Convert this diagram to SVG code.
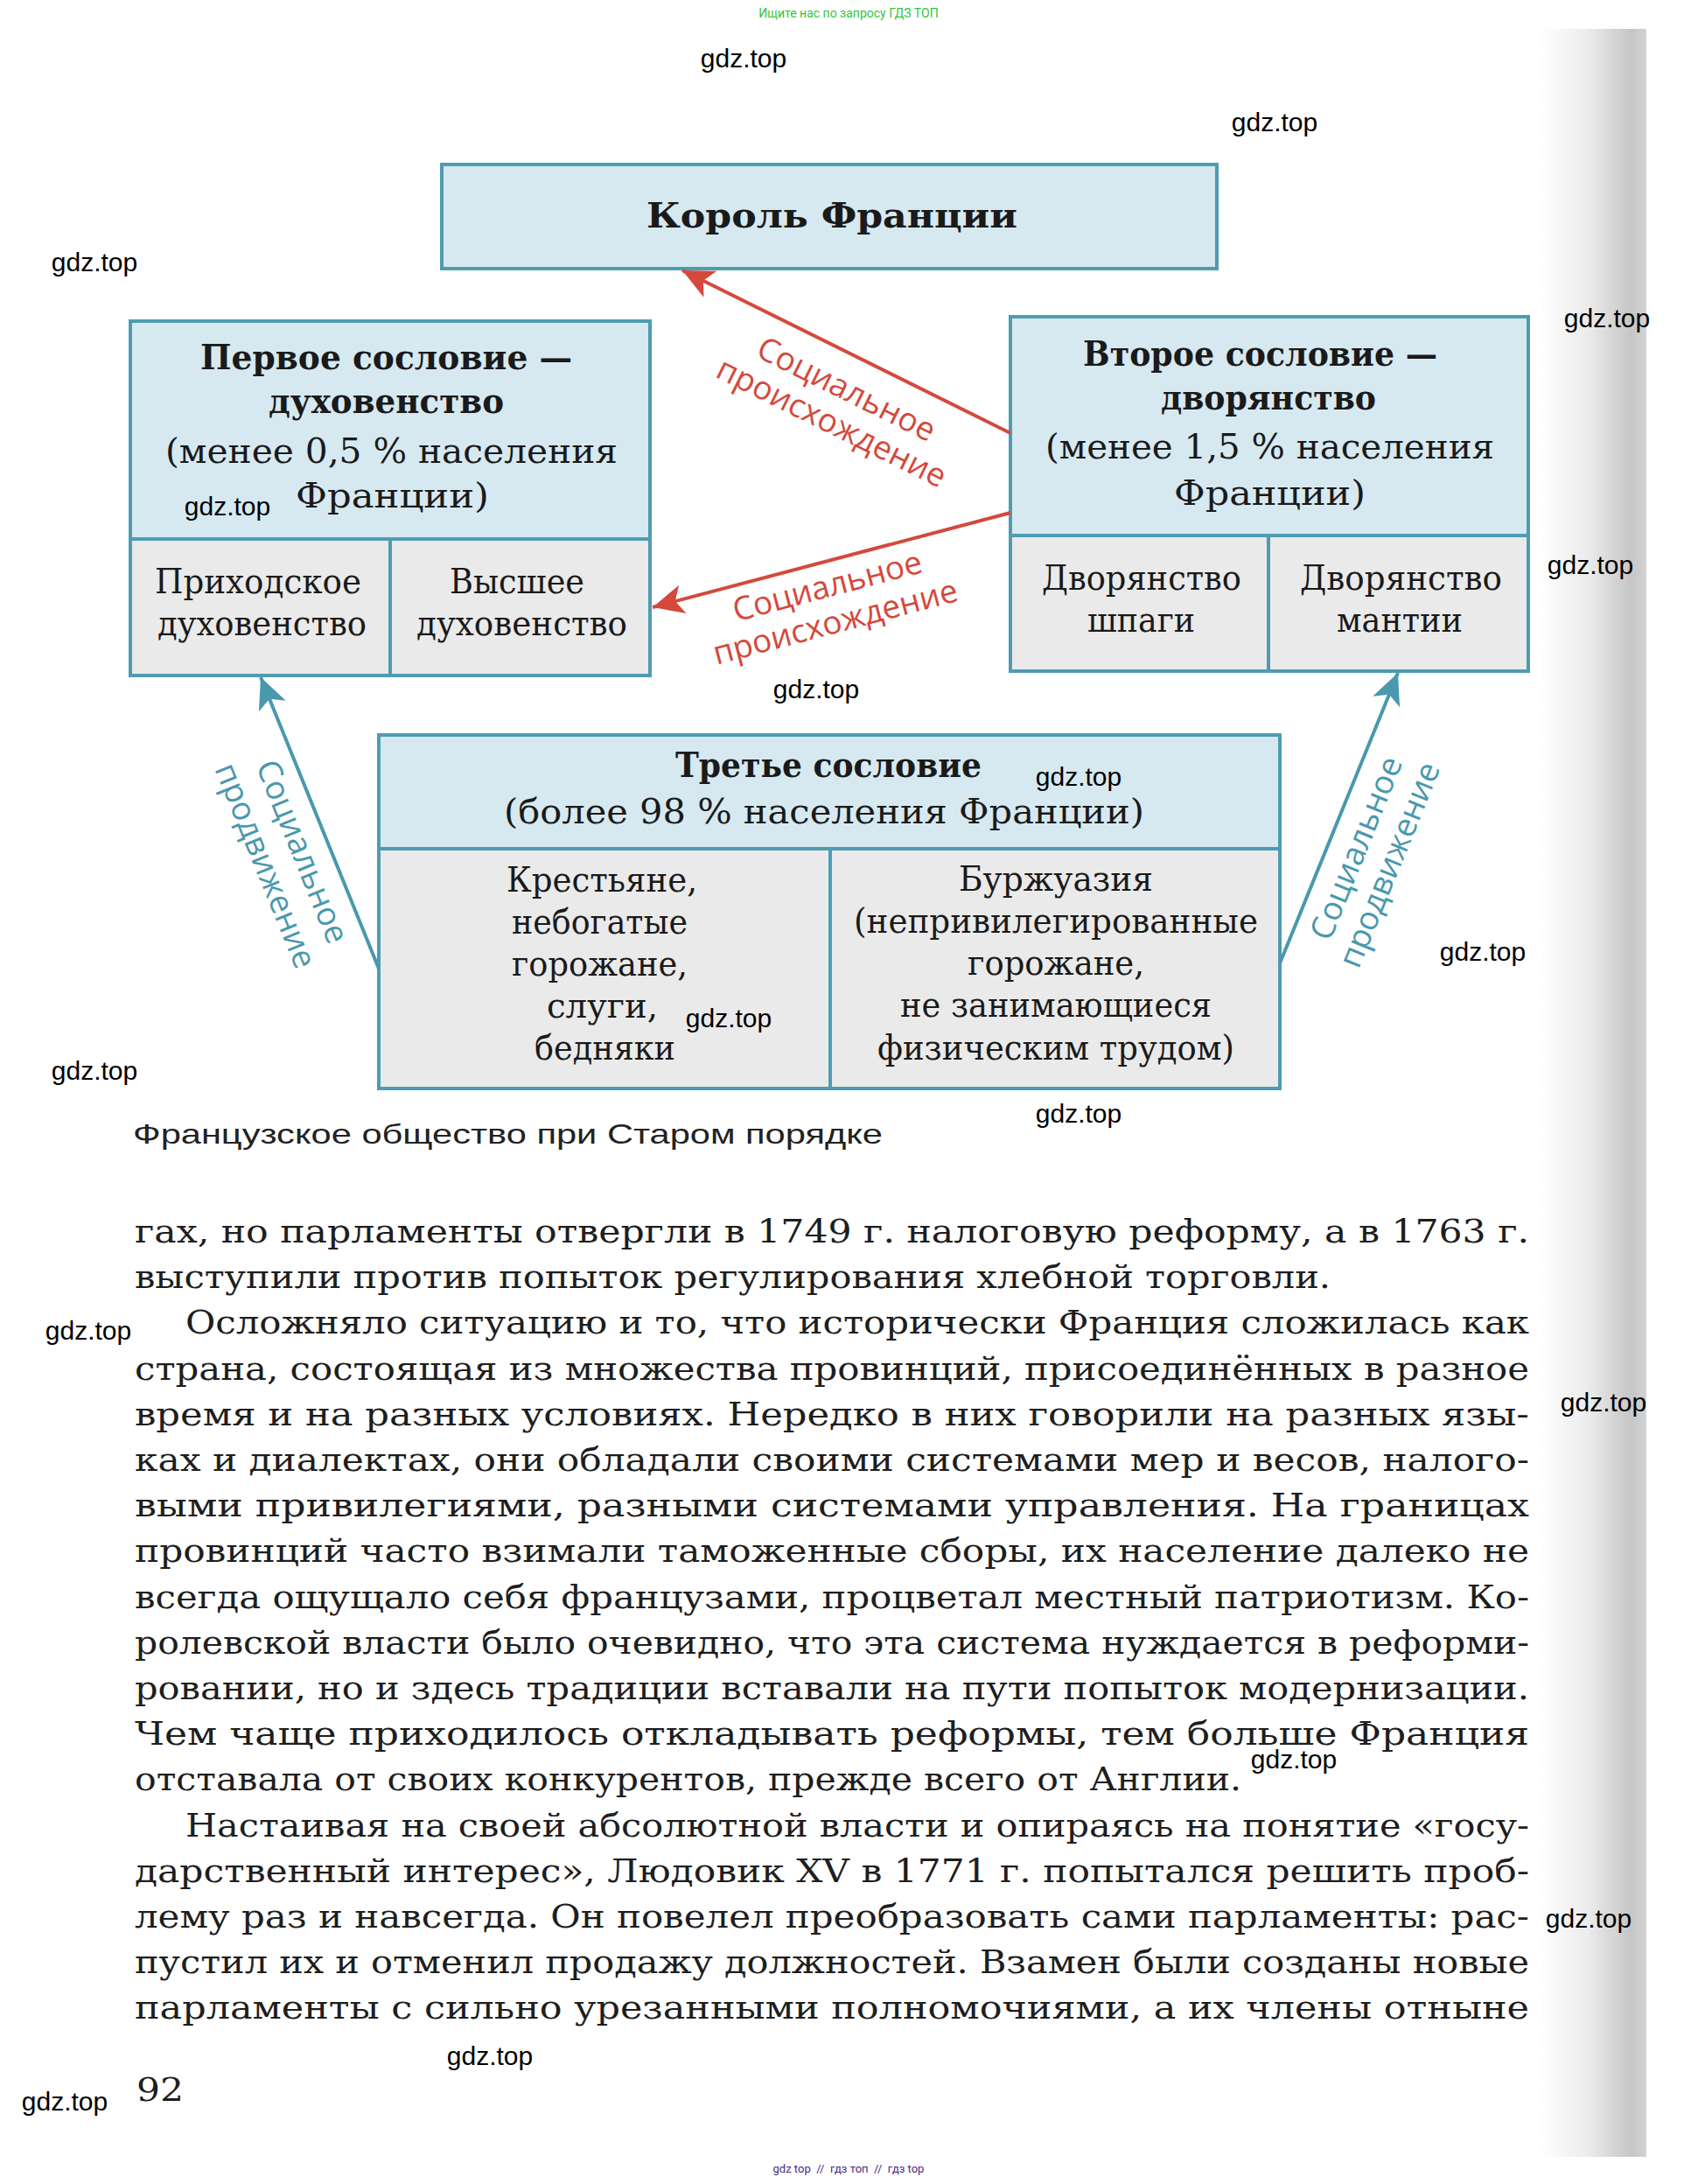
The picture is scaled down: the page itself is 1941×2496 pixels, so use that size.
<svg xmlns="http://www.w3.org/2000/svg" width="1941" height="2496" viewBox="0 0 1941 2496">
<defs>
<style>
.up{fill:#d6e9f1;stroke:none}
.lo{fill:#eaeaea;stroke:none}
.fr{fill:none;stroke:#4f9cb1;stroke-width:4}
.dv{stroke:#4f9cb1;stroke-width:4}
.t{font-family:"DejaVu Serif","Liberation Serif",serif;font-size:39px;fill:#1a1a1a}
.tb{font-family:"DejaVu Serif","Liberation Serif",serif;font-size:40px;font-weight:bold;fill:#1a1a1a}
.lr{font-family:"Open Sans","Noto Sans",sans-serif;font-size:37px;fill:#d4493c}
.lt{font-family:"Open Sans","Noto Sans",sans-serif;font-size:37px;fill:#4a98ad}
.ar{stroke:#d4493c;stroke-width:4;fill:none}
.at{stroke:#4a98ad;stroke-width:4;fill:none}
.body{font-family:"DejaVu Serif","Liberation Serif",serif;font-size:37px;fill:#1e1e1e}
.wm{font-family:"Liberation Sans",Arial,sans-serif;font-size:30px;fill:#000;text-anchor:middle}
</style>
<linearGradient id="edge" x1="0" y1="0" x2="1" y2="0">
<stop offset="0" stop-color="#ffffff"/>
<stop offset="0.45" stop-color="#ececec"/>
<stop offset="0.85" stop-color="#c6c6c6"/>
<stop offset="1" stop-color="#d2d2d2"/>
</linearGradient>
<marker id="mr" markerUnits="userSpaceOnUse" markerWidth="40" markerHeight="40" viewBox="-34 -17 36 34" refX="0" refY="0" orient="auto">
<path d="M0,0 L-32,-15 L-24,0 L-32,15 Z" fill="#d4493c"/>
</marker>
<marker id="mt" markerUnits="userSpaceOnUse" markerWidth="40" markerHeight="40" viewBox="-34 -17 36 34" refX="0" refY="0" orient="auto">
<path d="M0,0 L-32,-15 L-24,0 L-32,15 Z" fill="#4a98ad"/>
</marker>
</defs>
<rect x="0" y="0" width="1941" height="2496" fill="#ffffff"/>
<rect x="1760" y="33" width="122" height="2432" fill="url(#edge)"/>

<text x="970" y="20" font-family="Roboto,'Liberation Sans',sans-serif" font-size="14" fill="#33c43a" text-anchor="middle">Ищите нас по запросу ГДЗ ТОП</text>

<g id="king">
<rect class="up" x="505" y="188" width="886" height="119"/>
<rect class="fr" x="505" y="188" width="886" height="119"/>
<text class="tb" x="739" y="260" font-size="46" textLength="424" lengthAdjust="spacingAndGlyphs">Король Франции</text>
</g>

<g id="estate1">
<rect class="up" x="149" y="367" width="594" height="249"/>
<rect class="lo" x="149" y="616" width="594" height="156"/>
<rect class="fr" x="149" y="367" width="594" height="405"/>
<line class="dv" x1="149" y1="616" x2="743" y2="616"/>
<line class="dv" x1="446" y1="616" x2="446" y2="772"/>
<text class="tb" x="229" y="422" textLength="425" lengthAdjust="spacingAndGlyphs">Первое сословие —</text>
<text class="tb" x="307" y="472" textLength="269" lengthAdjust="spacingAndGlyphs">духовенство</text>
<text class="t" x="189" y="529" textLength="517" lengthAdjust="spacingAndGlyphs">(менее 0,5 % населения</text>
<text class="t" x="338" y="580" textLength="221" lengthAdjust="spacingAndGlyphs">Франции)</text>
<text class="t" x="177" y="678" textLength="236" lengthAdjust="spacingAndGlyphs">Приходское</text>
<text class="t" x="180" y="726" textLength="239" lengthAdjust="spacingAndGlyphs">духовенство</text>
<text class="t" x="514" y="678" textLength="154" lengthAdjust="spacingAndGlyphs">Высшее</text>
<text class="t" x="476" y="726" textLength="241" lengthAdjust="spacingAndGlyphs">духовенство</text>
</g>

<g id="estate2">
<rect class="up" x="1155" y="362" width="592" height="250"/>
<rect class="lo" x="1155" y="612" width="592" height="155"/>
<rect class="fr" x="1155" y="362" width="592" height="405"/>
<line class="dv" x1="1155" y1="612" x2="1747" y2="612"/>
<line class="dv" x1="1450" y1="612" x2="1450" y2="767"/>
<text class="tb" x="1238" y="418" textLength="405" lengthAdjust="spacingAndGlyphs">Второе сословие —</text>
<text class="tb" x="1327" y="468" textLength="246" lengthAdjust="spacingAndGlyphs">дворянство</text>
<text class="t" x="1195" y="524" textLength="513" lengthAdjust="spacingAndGlyphs">(менее 1,5 % населения</text>
<text class="t" x="1342" y="577" textLength="219" lengthAdjust="spacingAndGlyphs">Франции)</text>
<text class="t" x="1191" y="674" textLength="228" lengthAdjust="spacingAndGlyphs">Дворянство</text>
<text class="t" x="1243" y="722" textLength="123" lengthAdjust="spacingAndGlyphs">шпаги</text>
<text class="t" x="1486" y="674" textLength="231" lengthAdjust="spacingAndGlyphs">Дворянство</text>
<text class="t" x="1528" y="722" textLength="144" lengthAdjust="spacingAndGlyphs">мантии</text>
</g>

<g id="estate3">
<rect class="up" x="433" y="840" width="1030" height="130"/>
<rect class="lo" x="433" y="970" width="1030" height="274"/>
<rect class="fr" x="433" y="840" width="1030" height="404"/>
<line class="dv" x1="433" y1="970" x2="1463" y2="970"/>
<line class="dv" x1="949" y1="970" x2="949" y2="1244"/>
<text class="tb" x="772" y="888" textLength="350" lengthAdjust="spacingAndGlyphs">Третье сословие</text>
<text class="t" x="576" y="941" textLength="732" lengthAdjust="spacingAndGlyphs">(более 98 % населения Франции)</text>
<text class="t" x="579" y="1019" textLength="218" lengthAdjust="spacingAndGlyphs">Крестьяне,</text>
<text class="t" x="585" y="1067" textLength="201" lengthAdjust="spacingAndGlyphs">небогатые</text>
<text class="t" x="585" y="1115" textLength="201" lengthAdjust="spacingAndGlyphs">горожане,</text>
<text class="t" x="625" y="1163" textLength="127" lengthAdjust="spacingAndGlyphs">слуги,</text>
<text class="t" x="611" y="1211" textLength="161" lengthAdjust="spacingAndGlyphs">бедняки</text>
<text class="t" x="1096" y="1018" textLength="222" lengthAdjust="spacingAndGlyphs">Буржуазия</text>
<text class="t" x="976" y="1066" textLength="462" lengthAdjust="spacingAndGlyphs">(непривилегированные</text>
<text class="t" x="1106" y="1114" textLength="202" lengthAdjust="spacingAndGlyphs">горожане,</text>
<text class="t" x="1029" y="1162" textLength="356" lengthAdjust="spacingAndGlyphs">не занимающиеся</text>
<text class="t" x="1003" y="1211" textLength="408" lengthAdjust="spacingAndGlyphs">физическим трудом)</text>
</g>

<g id="connectors">
<line class="ar" x1="1155" y1="495" x2="780" y2="309" marker-end="url(#mr)"/>
<line class="ar" x1="1155" y1="586" x2="746" y2="694" marker-end="url(#mr)"/>
<line class="at" x1="433" y1="1107" x2="298" y2="774" marker-end="url(#mt)"/>
<line class="at" x1="1463" y1="1101" x2="1598" y2="769" marker-end="url(#mt)"/>
<text class="lr" text-anchor="middle" transform="translate(962 456) rotate(26.4)">Социальное</text>
<text class="lr" text-anchor="middle" transform="translate(945 494) rotate(26.4)">происхождение</text>
<text class="lr" text-anchor="middle" transform="translate(949 682) rotate(-14.8)">Социальное</text>
<text class="lr" text-anchor="middle" transform="translate(958 723) rotate(-14.8)">происхождение</text>
<text class="lt" text-anchor="middle" transform="translate(334 978) rotate(67.9)">Социальное</text>
<text class="lt" text-anchor="middle" transform="translate(292 994) rotate(67.9)">продвижение</text>
<text class="lt" text-anchor="middle" transform="translate(1562 974) rotate(-67.9)">Социальное</text>
<text class="lt" text-anchor="middle" transform="translate(1600 993) rotate(-67.9)">продвижение</text>
</g>

<text x="152" y="1307" font-family="'Liberation Sans',Arial,sans-serif" font-size="32" fill="#222" textLength="857" lengthAdjust="spacingAndGlyphs">Французское общество при Старом порядке</text>

<g id="body">
<text class="body" x="154" y="1420" textLength="1594" lengthAdjust="spacingAndGlyphs">гах, но парламенты отвергли в 1749 г. налоговую реформу, а в 1763 г.</text>
<text class="body" x="154" y="1472.2" textLength="1367" lengthAdjust="spacingAndGlyphs">выступили против попыток регулирования хлебной торговли.</text>
<text class="body" x="212" y="1524.4" textLength="1536" lengthAdjust="spacingAndGlyphs">Осложняло ситуацию и то, что исторически Франция сложилась как</text>
<text class="body" x="154" y="1576.6" textLength="1594" lengthAdjust="spacingAndGlyphs">страна, состоящая из множества провинций, присоединённых в разное</text>
<text class="body" x="154" y="1628.8" textLength="1594" lengthAdjust="spacingAndGlyphs">время и на разных условиях. Нередко в них говорили на разных язы-</text>
<text class="body" x="154" y="1681" textLength="1594" lengthAdjust="spacingAndGlyphs">ках и диалектах, они обладали своими системами мер и весов, налого-</text>
<text class="body" x="154" y="1733.2" textLength="1594" lengthAdjust="spacingAndGlyphs">выми привилегиями, разными системами управления. На границах</text>
<text class="body" x="154" y="1785.4" textLength="1594" lengthAdjust="spacingAndGlyphs">провинций часто взимали таможенные сборы, их население далеко не</text>
<text class="body" x="154" y="1837.6" textLength="1594" lengthAdjust="spacingAndGlyphs">всегда ощущало себя французами, процветал местный патриотизм. Ко-</text>
<text class="body" x="154" y="1889.8" textLength="1594" lengthAdjust="spacingAndGlyphs">ролевской власти было очевидно, что эта система нуждается в реформи-</text>
<text class="body" x="154" y="1942" textLength="1594" lengthAdjust="spacingAndGlyphs">ровании, но и здесь традиции вставали на пути попыток модернизации.</text>
<text class="body" x="154" y="1994.2" textLength="1594" lengthAdjust="spacingAndGlyphs">Чем чаще приходилось откладывать реформы, тем больше Франция</text>
<text class="body" x="154" y="2046.4" textLength="1265" lengthAdjust="spacingAndGlyphs">отставала от своих конкурентов, прежде всего от Англии.</text>
<text class="body" x="212" y="2098.6" textLength="1536" lengthAdjust="spacingAndGlyphs">Настаивая на своей абсолютной власти и опираясь на понятие «госу-</text>
<text class="body" x="154" y="2150.8" textLength="1594" lengthAdjust="spacingAndGlyphs">дарственный интерес», Людовик XV в 1771 г. попытался решить проб-</text>
<text class="body" x="154" y="2203" textLength="1594" lengthAdjust="spacingAndGlyphs">лему раз и навсегда. Он повелел преобразовать сами парламенты: рас-</text>
<text class="body" x="154" y="2255.2" textLength="1594" lengthAdjust="spacingAndGlyphs">пустил их и отменил продажу должностей. Взамен были созданы новые</text>
<text class="body" x="154" y="2307.4" textLength="1594" lengthAdjust="spacingAndGlyphs">парламенты с сильно урезанными полномочиями, а их члены отныне</text>
<text class="body" x="156" y="2401" font-size="42" textLength="54" lengthAdjust="spacingAndGlyphs">92</text>
</g>

<g id="watermarks">
<text class="wm" x="850" y="77">gdz.top</text>
<text class="wm" x="1457" y="150">gdz.top</text>
<text class="wm" x="108" y="310">gdz.top</text>
<text class="wm" x="1837" y="374">gdz.top</text>
<text class="wm" x="260" y="589">gdz.top</text>
<text class="wm" x="1818" y="656">gdz.top</text>
<text class="wm" x="933" y="798">gdz.top</text>
<text class="wm" x="1233" y="898">gdz.top</text>
<text class="wm" x="1695" y="1098">gdz.top</text>
<text class="wm" x="833" y="1174">gdz.top</text>
<text class="wm" x="108" y="1234">gdz.top</text>
<text class="wm" x="1233" y="1283">gdz.top</text>
<text class="wm" x="101" y="1531">gdz.top</text>
<text class="wm" x="1833" y="1613">gdz.top</text>
<text class="wm" x="1479" y="2021" font-size="22">gdz.top</text>
<text class="wm" x="1816" y="2203">gdz.top</text>
<text class="wm" x="560" y="2360">gdz.top</text>
<text class="wm" x="74" y="2412">gdz.top</text>
</g>

<text x="970" y="2483" font-family="Roboto,'Liberation Sans',sans-serif" font-size="13" fill="#4a2a80" text-anchor="middle" xml:space="preserve">gdz top  //  гдз топ  //  гдз top</text>
</svg>
